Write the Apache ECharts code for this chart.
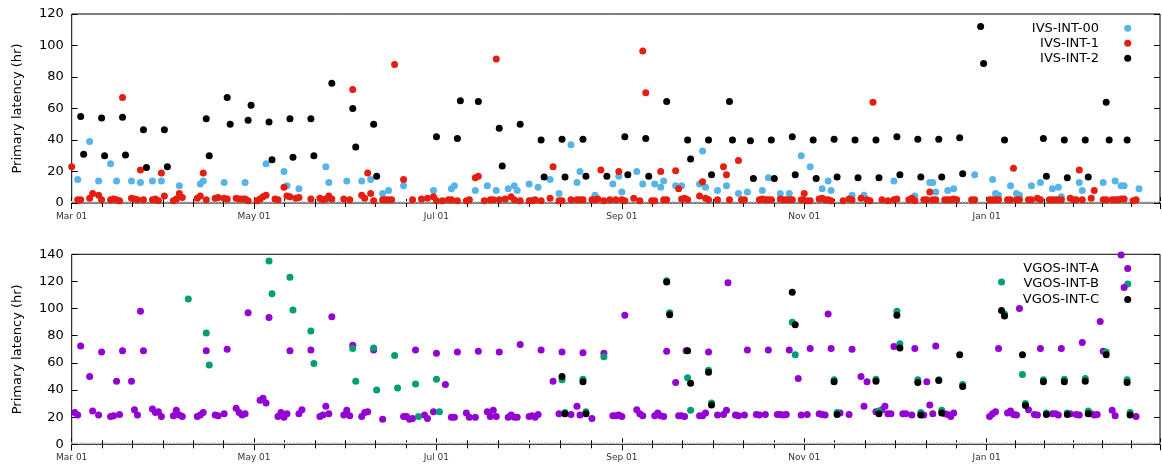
<!DOCTYPE html>
<html>
<head>
<meta charset="utf-8">
<script src="https://cdn.jsdelivr.net/npm/echarts@6/dist/echarts.min.js"></script>
<style>
html, body { margin: 0; padding: 0; background: #fff; }
#chart { width: 1162px; height: 467px; }
</style>
</head>
<body>
<div id="chart"></div>
<script>
// x = days after Mar 01, y = primary latency in hours
var DAY = 86400000;
var START = Date.UTC(2023, 2, 1);
var SPAN_DAYS = 364;
var MONTHS = ['Jan','Feb','Mar','Apr','May','Jun','Jul','Aug','Sep','Oct','Nov','Dec'];
var yTop = [0, 120, 20];
var yBottom = [0, 140, 20];

var ivs00 = [
    [2,15],[6,39],[9,14],[13,25],[15,14],[20,14],[23,13],[27,14],[30,14],[36,11],[43,12],[44,14],
    [51,13],[58,13],[65,25],[71,20],[72,11],[76,9],[85,23],[86,13],[92,14],[97,14],[100,15],[104,6],
    [106,8],[111,11],[121,8],[127,9],[128,11],[135,8],[139,11],[142,8],[146,9],[148,11],[149,8],[153,12],
    [156,10],[160,15],[163,6],[167,37],[169,13],[170,20],[175,5],[181,12],[183,17],[184,7],[189,20],[191,12],
    [195,12],[197,10],[198,14],[202,11],[204,11],[210,12],[211,33],[212,10],[216,8],[219,11],[223,6],[226,7],
    [231,8],[233,16],[237,6],[240,6],[244,30],[247,23],[251,9],[253,14],[254,8],[261,5],[265,5],[275,14],
    [282,4.5],[287,13],[288,13],[289,7],[293,8],[295,9],[302,18],[308,15],[309,6],[310,5],[314,11],[316,6],
    [317,5],[321,11],[324,13],[328,9],[330,10],[331,4],[337,13],[338,8],[345,13],[349,14],[351,11],[352,11],[357,9]
];
var ivs1 = [
    [0,23],[2,2],[3,2],[6,3],[7,6],[9,5],[10,2],[13,2],[14,2.5],[15,2],[16,1.5],[17,67],[20,3],[21,2.5],[22,2],
    [23,21],[24,2],[27,2],[28,2.5],[29,1.5],[30,19],[31,4.5],[34,1.5],[35,2.5],[36,6],[37,3.5],[42,3],[43,4.5],
    [44,19],[45,2],[48,3],[49,3.5],[51,3],[52,2.5],[55,3],[56,2.5],[57,2.5],[58,2.5],[59,1.5],[62,1.5],[63,2.5],
    [64,4],[65,5],[68,2.5],[69,2],[71,10],[72,4.5],[73,4],[75,3],[76,3.5],[80,2.5],[83,3],[84,2],[85,2.5],[86,4.5],
    [87,2.5],[91,2.5],[93,2],[94,72],[97,5],[98,3],[99,19],[100,6],[101,1.5],[104,2],[105,2],[106,2],[107,2],
    [108,88],[111,15],[114,2],[117,2.5],[119,3],[121,4],[122,1.5],[124,1.5],[126,2],[127,2],[129,1.5],[132,1.5],
    [133,2],[135,16],[136,17],[138,1.5],[140,2],[141,2],[142,91.5],[143,2],[145,2.5],[147,4],[148,2],[150,1.5],
    [153,1.5],[154,1.5],[155,2],[157,1.5],[160,3],[161,23],[163,1.5],[164,1.5],[167,2],[169,2],[170,2],[171,2],
    [174,2],[175,2],[176,2.5],[177,21],[178,1.5],[180,2],[182,2],[183,20],[184,2],[185,1.5],[188,3],[190,1.5],
    [191,96.5],[192,70],[194,1.5],[195,1.5],[197,20],[198,2],[199,2],[202,20.5],[203,9],[204,2.5],[205,3],[206,2],
    [210,4.5],[211,13.5],[212,3],[213,2],[216,2],[218,23],[219,18],[220,2],[223,27],[224,2],[225,2],[230,2],
    [231,2.5],[232,2],[233,2],[234,2],[237,2.5],[238,2],[239,2],[240,2],[241,2],[244,2],[245,6],[246,1.5],[247,1.5],
    [250,2.5],[251,3],[252,2],[253,2],[254,1.5],[258,1.5],[260,2.5],[261,2],[264,3],[266,2],[267,1.5],[268,64],
    [271,2],[273,1.5],[275,2],[276,2.5],[280,2],[281,3],[282,1.5],[285,2],[286,2],[287,7],[288,2],[289,2],
    [292,2],[293,2],[294,2],[295,2.5],[296,2],[301,2],[302,2],[307,2],[308,2],[309,2],[310,2],[313,2],[314,2],
    [315,22],[316,2],[317,2],[320,2],[321,2],[323,3],[324,2],[327,2],[328,2],[329,2],[330,2],[331,2],[334,3],
    [335,2],[336,2],[337,21],[338,2],[341,3],[342,8],[345,2],[346,2],[348,2],[349,2],[350,2],[351,2.5],[352,2.5],
    [355,1.5],[356,2]
];
var ivs2 = [
    [3,55],[4,31],[10,54],[11,30],[17,54.5],[18,30.5],[24,46.5],[25,22.5],[31,46.5],[32,23],[45,53.5],[46,30],
    [52,67],[53,50],[59,52.5],[60,62],[66,51.5],[67,27.5],[73,53.5],[74,29],[80,53.5],[81,30],[87,76],[94,60],
    [95,35.5],[101,50],[102,17],[122,42],[129,41],[130,65],[136,64.5],[143,47.5],[144,23.5],[150,50],[157,40],
    [158,16.5],[164,40.5],[165,16.5],[171,40.5],[172,17],[179,17],[185,42],[186,18],[192,41],[193,17],[199,64.5],
    [206,40],[207,28],[213,40],[214,18],[220,64.5],[221,40],[227,39.5],[228,15.5],[234,40],[235,15.5],[241,42],
    [242,18],[248,40],[249,15.5],[255,40.5],[256,16.5],[262,40],[263,16],[269,40],[270,16],[276,42],[277,18],
    [283,40.5],[284,16.5],[290,40.5],[291,16.5],[297,41.5],[298,18.5],[304,112],[305,88.5],[312,40],[325,41],
    [326,17],[332,40],[333,16],[339,40],[340,16.5],[346,64],[347,40],[353,40]
];

var vgosA = [
    [1,23.5],[2,21.5],[3,72.5],[6,50],[7,24.5],[9,21.5],[10,68],[13,20.5],[14,21],[15,46.5],[16,22],[17,69],
    [20,46.5],[21,25.5],[22,21.5],[23,98],[24,69],[27,26],[28,23.5],[29,24],[30,20.5],[34,21],[35,25],[36,21.5],
    [37,20.5],[42,20.5],[43,21.5],[44,23.5],[45,69],[48,21.5],[49,21],[51,22.5],[52,70],[55,26.5],[56,23.5],
    [57,21.5],[58,22.5],[59,97],[63,32.5],[64,34],[65,30.5],[66,93.5],[69,20.5],[70,23.5],[71,20],[72,22.5],
    [73,69],[76,22.5],[77,25.5],[80,69.5],[83,20.5],[84,21.5],[85,28],[86,22.5],[87,94],[91,21.5],[92,25],
    [93,21],[94,73],[97,20.5],[98,23.5],[99,24],[101,69.5],[104,18.5],[111,20.5],[112,20.5],[113,18.5],[114,19],
    [115,69.5],[118,21.5],[119,19],[121,24],[122,67],[125,44],[127,20],[128,20],[129,68],[132,23],[133,20],
    [135,20],[136,68.5],[139,24],[140,20.5],[141,25],[142,20.5],[143,68],[146,20],[147,21.5],[148,20],[149,20],
    [150,73.5],[153,20.5],[154,21],[155,20],[156,22],[157,69.5],[161,46.5],[163,22.5],[164,68],[167,22],[169,28],
    [170,21.5],[171,67.5],[174,19],[178,67],[181,21],[182,21],[183,21.5],[184,20.5],[185,95],[189,25.5],[190,22.5],
    [191,21],[195,21],[196,23],[197,21],[198,20.5],[199,68.5],[202,45.5],[203,21],[204,21],[205,20.5],[205.5,69],
    [210,21],[211,21],[212,23],[213,68],[216,21.5],[218,22],[219,25],[219.5,119],[222,21.5],[223,21],[225,21.5],
    [226,69.5],[229,22],[230,21.5],[232,22],[233,69.5],[236,22],[237,22],[238,21.5],[239,22],[240,69.5],[243,48.5],
    [244,21.5],[246,22],[247,70.5],[250,22.5],[251,22],[252,21.5],[253,96],[254,70.5],[257,23],[260,22],[261,70],
    [264,50],[265,28],[266,46],[269,24],[271,25.5],[272,28],[273,22.5],[274,22.5],[275,72],[278,22.5],[279,22.5],
    [281,21.5],[282,70.5],[285,21.5],[286,46],[287,29],[288,22.5],[289,72.5],[292,22.5],[293,22],[294,20.5],
    [295,23],[307,20.5],[308,22.5],[309,24],[310,70.5],[313,23],[314,24.5],[315,22],[316,21.5],[317,100],[320,25.5],
    [322,22],[323,21.5],[324,70.5],[328,22.5],[329,22.5],[330,21.5],[331,70.5],[334,22.5],[336,22],[337,21.5],
    [338,75],[341,22.5],[342,21.5],[343,22],[344,90.5],[345,68.5],[348,25],[349,21],[351,139.5],[352,115.5],[356,20.5]
];
var vgosB = [
    [39,107],[45,82],[46,58.5],[66,135],[67,111],[73,123],[74,99],[80,83.5],[81,59.5],[94,70.5],[95,46.5],
    [101,71],[102,40],[108,65.5],[109,41.5],[115,44.5],[116,20.5],[122,48],[123,24],[164,47.5],[165,23.5],
    [171,48],[172,24],[178,64.5],[199,120.5],[200,97],[206,49],[207,25],[213,54.5],[214,30.5],[241,90],[242,66],
    [255,47.5],[256,23.5],[269,48],[270,24.5],[276,98],[277,74],[283,47.5],[284,23.5],[290,47.5],[291,25],
    [298,44],[311,119.5],[312,96],[318,51.5],[319,30],[325,47.5],[326,23],[332,48],[333,23],[339,48.5],[340,24.5],
    [346,68],[353,47.5],[354,23.5]
];
var vgosC = [
    [164,50],[165,22.5],[171,46],[172,22.5],[199,119.5],[200,95.5],[206,69],[207,45],[213,53],[214,29],[241,112],
    [242,88],[255,46],[256,22],[269,46.5],[270,22.5],[276,95],[277,71],[283,45.5],[284,21.5],[290,47],[291,23],
    [297,66],[298,42.5],[311,98.5],[312,94.5],[318,66],[319,28.5],[325,46],[326,22],[332,46],[333,22],[339,46.5],
    [340,22.5],[346,66],[353,45.5],[354,21.5]
];

var FONT = 'DejaVu Sans';
var END = START + SPAN_DAYS * DAY;
var COLORS = {
    'IVS-INT-00': '#56b4e9', 'IVS-INT-1': '#e51e10', 'IVS-INT-2': '#000000',
    'VGOS-INT-A': '#9400d3', 'VGOS-INT-B': '#009e73', 'VGOS-INT-C': '#000000'
};

function toPoints(list) {
    return list.map(function (p) { return [START + p[0] * DAY, p[1]]; });
}

function fmtDate(v) {
    var d = new Date(v);
    var dd = d.getUTCDate();
    return MONTHS[d.getUTCMonth()] + ' ' + (dd < 10 ? '0' + dd : dd);
}

function timeAxis(grid, pos, labels) {
    return {
        type: 'time', gridIndex: grid, position: pos,
        min: START, max: END,
        minInterval: 59 * DAY, maxInterval: 62 * DAY,
        axisLine: { show: false },
        axisTick: { show: true, inside: true, length: 6, lineStyle: { color: '#000' } },
        minorTick: { show: true, splitNumber: 6, length: 4, lineStyle: { color: '#000' } },
        splitLine: { show: false },
        axisLabel: {
            show: labels, formatter: fmtDate, fontFamily: FONT, fontSize: 9, color: '#333', margin: 9,
            showMinLabel: true, showMaxLabel: false
        }
    };
}

function dayAxis(grid) {
    return {
        type: 'value', gridIndex: grid, position: 'bottom',
        min: 0, max: SPAN_DAYS, interval: 1,
        axisLine: { show: false },
        axisTick: { show: true, inside: true, length: 2, lineStyle: { color: '#bbb' } },
        axisLabel: { show: false },
        splitLine: { show: false }
    };
}

function valueAxis(grid, pos, range, named) {
    var ax = {
        type: 'value', gridIndex: grid, position: pos,
        min: range[0], max: range[1], interval: range[2],
        axisLine: { show: false },
        axisTick: { show: true, inside: true, length: 6, lineStyle: { color: '#000' } },
        splitLine: { show: false },
        axisLabel: { show: named, fontFamily: FONT, fontSize: 13, color: '#000', margin: 8 }
    };
    if (named) {
        ax.name = 'Primary latency (hr)';
        ax.nameLocation = 'middle';
        ax.nameRotate = 90;
        ax.nameGap = 48;
        ax.nameTextStyle = { fontFamily: FONT, fontSize: 13, color: '#000' };
    }
    return ax;
}

function scatter(name, list, xi, yi) {
    return {
        name: name, type: 'scatter', xAxisIndex: xi, yAxisIndex: yi,
        symbol: 'circle', symbolSize: 7, itemStyle: { color: COLORS[name], opacity: 1 },
        data: toPoints(list)
    };
}

// gnuplot-style key: right-aligned name with its dot to the right
var keyRows = [
    ['IVS-INT-00', 28.3], ['IVS-INT-1', 43.3], ['IVS-INT-2', 58.3],
    ['VGOS-INT-A', 268.5], ['VGOS-INT-B', 284], ['VGOS-INT-C', 299.5]
];
var keyElements = [];
keyRows.forEach(function (r) {
    keyElements.push({
        type: 'text', x: 1099, y: r[1], silent: true,
        style: { text: r[0], align: 'right', verticalAlign: 'middle', font: '13px "DejaVu Sans"', fill: '#000' }
    });
    keyElements.push({
        type: 'circle', shape: { cx: 1127.7, cy: r[1], r: 3.5 }, silent: true,
        style: { fill: COLORS[r[0]] }
    });
});

var option = {
    useUTC: true,
    animation: false,
    backgroundColor: '#fff',
    grid: [
        { left: 71.7, right: 2, top: 14, height: 189, show: true, borderColor: '#000', borderWidth: 1, backgroundColor: 'transparent' },
        { left: 71.7, right: 2, top: 254.3, height: 190, show: true, borderColor: '#000', borderWidth: 1, backgroundColor: 'transparent' }
    ],
    xAxis: [
        timeAxis(0, 'bottom', true), timeAxis(0, 'top', false), dayAxis(0),
        timeAxis(1, 'bottom', true), timeAxis(1, 'top', false), dayAxis(1)
    ],
    yAxis: [
        valueAxis(0, 'left', yTop, true), valueAxis(0, 'right', yTop, false),
        valueAxis(1, 'left', yBottom, true), valueAxis(1, 'right', yBottom, false)
    ],
    graphic: keyElements,
    series: [
        scatter('IVS-INT-00', ivs00, 0, 0),
        scatter('IVS-INT-1', ivs1, 0, 0),
        scatter('IVS-INT-2', ivs2, 0, 0),
        scatter('VGOS-INT-A', vgosA, 3, 2),
        scatter('VGOS-INT-B', vgosB, 3, 2),
        scatter('VGOS-INT-C', vgosC, 3, 2)
    ]
};

var myChart = echarts.init(document.getElementById('chart'), null, { renderer: 'canvas' });
myChart.setOption(option);
</script>
</body>
</html>
